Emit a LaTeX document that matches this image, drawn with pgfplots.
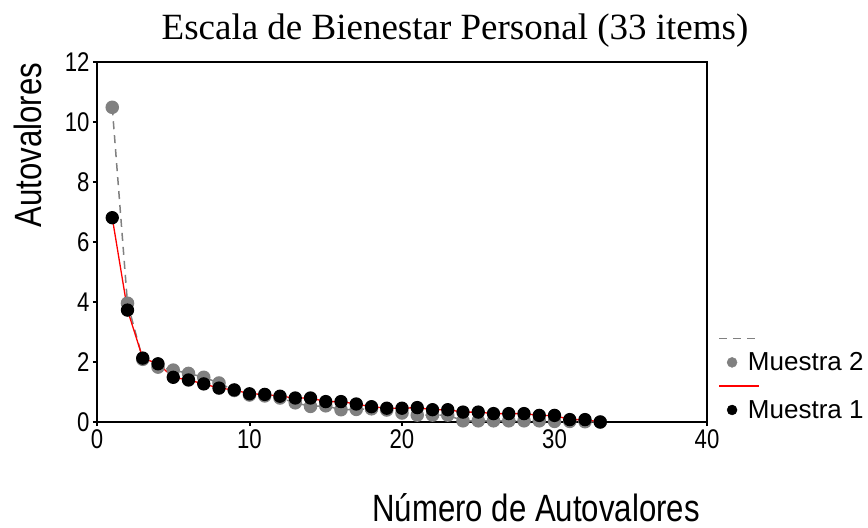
\documentclass[border=0pt]{standalone}
\usepackage{fontspec}
\setmainfont{Liberation Serif}
\newfontfamily\arialc[FakeStretch=0.82]{Liberation Sans}
\newfontfamily\arial{Liberation Sans}
\usepackage{pgfplots}
\pgfplotsset{compat=1.18}
\definecolor{mgray}{RGB}{128,128,128}
\definecolor{mred}{RGB}{255,0,0}
\pgfplotsset{
  lineleg/.style={legend image code/.code={\draw[##1] (0bp,0bp) -- (40bp,0bp);}},
  markleg/.style={legend image code/.code={\fill[##1] (13bp,0bp) circle (5bp);}},
}
\begin{document}
\begin{tikzpicture}
\useasboundingbox (-97bp,-106bp) rectangle (771bp,422bp);
\begin{axis}[
  at={(0bp,0bp)}, anchor=south west,
  scale only axis, width=610bp, height=360bp,
  xmin=0, xmax=40, ymin=0, ymax=12,
  xtick={0,10,20,30,40}, ytick={0,2,4,6,8,10,12},
  axis line style={line width=1.3bp},
  tick style={line width=2bp, black},
  major tick length=4bp, tick align=outside,
  xtick pos=bottom, ytick pos=left,
  /pgf/number format/assume math mode=true,
  ticklabel style={font=\arialc\fontsize{27bp}{27bp}\selectfont},
  clip=false,
  legend style={draw=none, fill=none, at={(1.018,0.24)}, anchor=north west,
     font=\arial\fontsize{26bp}{26bp}\selectfont,
     /tikz/every odd column/.style={column sep=-14bp},
     row sep=9.3bp, inner sep=0pt},
  legend cell align=left,
]
\addplot[mgray, dashed, dash pattern=on 8bp off 6bp, line width=1.5bp,
  mark=*, mark size=6bp, mark options={solid, fill=mgray, draw=mgray}, forget plot] coordinates {
(1,10.49) (2,3.96) (3,2.09) (4,1.83) (5,1.73) (6,1.62) (7,1.49) (8,1.30) (9,1.05) (10,0.90)
(11,0.87) (12,0.80) (13,0.64) (14,0.52) (15,0.54) (16,0.41) (17,0.42) (18,0.44) (19,0.40) (20,0.30)
(21,0.23) (22,0.23) (23,0.23) (24,0.04) (25,0.04) (26,0.04) (27,0.04) (28,0.04) (29,0.04) (30,0.02)
(31,0.02) (32,0.01) (33,0.00)
};
\addplot[mred, line width=1.3bp,
  mark=*, mark size=6bp, mark options={fill=black, draw=black}, forget plot] coordinates {
(1,6.81) (2,3.73) (3,2.13) (4,1.94) (5,1.49) (6,1.40) (7,1.27) (8,1.13) (9,1.07) (10,0.94)
(11,0.92) (12,0.86) (13,0.80) (14,0.80) (15,0.68) (16,0.68) (17,0.60) (18,0.51) (19,0.46) (20,0.46)
(21,0.48) (22,0.41) (23,0.41) (24,0.33) (25,0.33) (26,0.28) (27,0.28) (28,0.28) (29,0.22) (30,0.22)
(31,0.08) (32,0.08) (33,0.00)
};
\addlegendimage{lineleg, mgray, dashed, dash pattern=on 8bp off 6bp, line width=1.5bp}
\addlegendentry{}
\addlegendimage{markleg, mgray}
\addlegendentry{Muestra 2}
\addlegendimage{lineleg, draw=mred, line width=1.8bp}
\addlegendentry{}
\addlegendimage{markleg, black}
\addlegendentry{Muestra 1}
\end{axis}
\node[anchor=base, font=\fontsize{37bp}{37bp}\selectfont] at (358bp,382bp) {Escala de Bienestar Personal (33 items)};
\node[anchor=base, rotate=90, font=\arialc\fontsize{38bp}{38bp}\selectfont] at (-55bp,277bp) {Autovalores};
\node[anchor=base, font=\arialc\fontsize{38bp}{38bp}\selectfont] at (439bp,-99bp) {Número de Autovalores};
\end{tikzpicture}
\end{document}
